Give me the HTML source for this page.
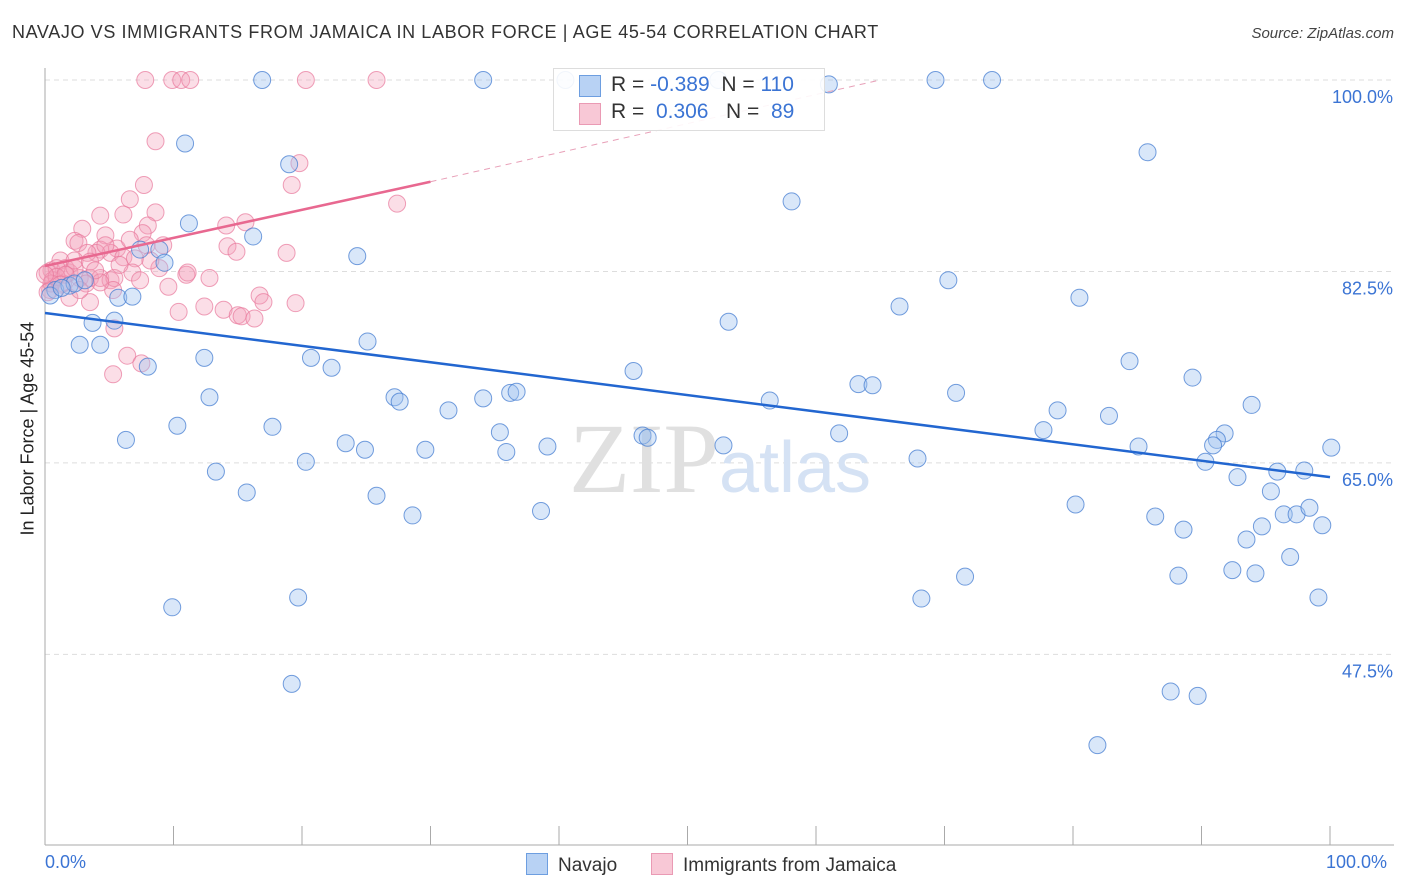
<!DOCTYPE html>
<html><head><meta charset="utf-8">
<style>
body{margin:0;background:#fff;font-family:"Liberation Sans",sans-serif;}
#wrap{position:relative;width:1406px;height:892px;overflow:hidden;}
.t{position:absolute;white-space:nowrap;}
</style></head>
<body>
<div id="wrap">
<div class="t" style="left:12px;top:22px;font-size:18px;color:#333;letter-spacing:0.62px">NAVAJO VS IMMIGRANTS FROM JAMAICA IN LABOR FORCE | AGE 45-54 CORRELATION CHART</div>
<div class="t" style="right:12px;top:25px;font-size:15px;color:#444;font-style:italic">Source: ZipAtlas.com</div>
<svg id="svg" width="1406" height="892" style="position:absolute;left:0;top:0"></svg>
</div>
<script>
const bluePx=[[262,80],[483,80],[565,80],[718,80],[829,84],[936,80],[992,80],[185,143],[289,164],[1147,152],[792,201],[189,223],[253,236],[140,250],[160,250],[357,256],[165,263],[948,280],[55,290],[70,286],[75,283],[118,298],[133,297],[1080,298],[900,307],[93,323],[115,321],[728,322],[80,345],[100,345],[368,341],[204,358],[311,358],[148,367],[331,368],[1130,361],[633,371],[1193,378],[859,384],[872,385],[956,393],[209,397],[395,397],[400,402],[483,398],[510,393],[516,392],[770,401],[449,410],[1058,410],[1251,405],[1109,416],[177,426],[273,427],[500,432],[1043,430],[1225,433],[126,440],[346,443],[365,450],[425,450],[506,452],[548,447],[642,436],[648,438],[724,445],[839,433],[1138,447],[1217,440],[1213,445],[1331,448],[917,459],[306,462],[1205,462],[216,472],[1237,477],[1277,472],[1304,471],[247,492],[376,496],[1271,491],[413,515],[541,511],[1075,505],[1155,517],[1184,530],[1262,526],[1284,514],[1297,514],[1310,508],[1322,525],[1246,540],[1290,557],[965,577],[1179,576],[1232,570],[1256,573],[172,607],[298,597],[921,599],[1318,598],[292,684],[1171,691],[1198,696],[1098,745],[50,295],[62,288],[85,280]];
const pinkPx=[[145,80],[172,80],[181,80],[190,80],[306,80],[377,80],[156,141],[300,163],[292,185],[144,185],[130,199],[397,204],[156,212],[100,216],[124,215],[82,229],[106,235],[226,225],[246,222],[148,225],[143,233],[75,241],[78,243],[117,249],[147,245],[163,245],[227,246],[100,250],[110,253],[96,253],[88,253],[123,257],[237,252],[286,253],[135,258],[60,260],[52,270],[48,272],[70,272],[53,280],[63,283],[80,278],[90,278],[100,278],[110,280],[115,278],[133,272],[159,268],[186,275],[187,273],[210,278],[66,268],[74,268],[57,268],[50,290],[52,283],[86,283],[113,290],[168,287],[260,295],[264,302],[296,303],[70,298],[90,302],[178,312],[204,307],[223,310],[238,315],[242,316],[255,318],[114,328],[127,356],[141,363],[113,374],[47,292],[57,277],[75,260],[90,262],[100,282],[65,275],[95,270],[120,265],[105,245],[140,280],[80,290],[60,285],[150,260],[45,275],[130,240]];
// data arrays (x in %, y in %)
const navajoX=bluePx.map(p=>+((p[0]-45)/12.85).toFixed(1));
const navajoY=bluePx.map(p=>+(100-(p[1]-80)/10.94).toFixed(1));
const jamaicaX=pinkPx.map(p=>+((p[0]-45)/12.85).toFixed(1));
const jamaicaY=pinkPx.map(p=>+(100-(p[1]-80)/10.94).toFixed(1));
const navajoTrend=[[0,78.7],[100,63.7]];
const jamaicaTrend=[[0,83.0],[30,90.7],[65,100]];
const yTicks=[100,82.5,65,47.5];
const yTickLabels=["100.0%","82.5%","65.0%","47.5%"];

const X=v=>45+v*12.85, Y=v=>80+(100-v)*10.94;
const svg=document.getElementById('svg');const NS='http://www.w3.org/2000/svg';
function mk(tag,attrs,parent){const e=document.createElementNS(NS,tag);for(const k in attrs)e.setAttribute(k,attrs[k]);(parent||svg).appendChild(e);return e;}
yTicks.forEach((v,i)=>{
 const g=mk('line',{x1:45,x2:1394,y1:Y(v),y2:Y(v),stroke:'#ddd','stroke-dasharray':'5,4'});
 
 
 const t=mk('text',{x:1393,y:Y(v)+23,'text-anchor':'end','font-size':18,fill:'#3b74d4','font-family':'Liberation Sans, sans-serif'});
 t.textContent=yTickLabels[i];
 
 
});
const ax=mk('line',{x1:45,x2:45,y1:68,y2:845,stroke:'#aaa'});


const bx=mk('line',{x1:45,x2:1394,y1:845,y2:845,stroke:'#aaa'});


for(let i=1;i<=10;i++){const tk=mk('line',{x1:45+i*128.5,x2:45+i*128.5,y1:826,y2:845,stroke:'#aaa'});
 
 }
const wm=mk('text',{x:720,y:492,'text-anchor':'middle','font-size':100,fill:'#e0e0e0','font-family':'Liberation Serif, serif'});
wm.innerHTML='ZIP<tspan fill="#d5e2f4" font-family="Liberation Sans, sans-serif" font-size="72">atlas</tspan>';


jamaicaX.forEach((x,i)=>{const c=mk('circle',{cx:X(x),cy:Y(jamaicaY[i]),r:8.5,fill:'rgba(244,160,185,0.35)',stroke:'rgba(232,120,155,0.7)','stroke-width':1});
 
 });
navajoX.forEach((x,i)=>{const c=mk('circle',{cx:X(x),cy:Y(navajoY[i]),r:8.5,fill:'rgba(160,195,240,0.4)',stroke:'rgba(70,125,210,0.75)','stroke-width':1});
 
 });
const nl=mk('line',{x1:X(navajoTrend[0][0]),y1:Y(navajoTrend[0][1]),x2:X(navajoTrend[1][0]),y2:Y(navajoTrend[1][1]),stroke:'#2266d0','stroke-width':2.5});


const jl=mk('line',{x1:X(jamaicaTrend[0][0]),y1:Y(jamaicaTrend[0][1]),x2:X(jamaicaTrend[1][0]),y2:Y(jamaicaTrend[1][1]),stroke:'#e86890','stroke-width':2.5});


const jd=mk('line',{x1:X(jamaicaTrend[1][0]),y1:Y(jamaicaTrend[1][1]),x2:X(jamaicaTrend[2][0]),y2:Y(jamaicaTrend[2][1]),stroke:'#e8a0b8','stroke-width':1,'stroke-dasharray':'6,5'});


</script>
<div class="t" style="left:553px;top:68px;width:270px;height:61px;border:1px solid #ddd;background:rgba(255,255,255,0.9)"></div>
<div class="t" style="left:579px;top:75px;width:20px;height:20px;background:#b8d2f4;border:1px solid #6d9ee0"></div>
<div class="t" style="left:579px;top:103px;width:20px;height:20px;background:#f8c8d6;border:1px solid #ea9ab4"></div>
<div class="t" style="left:611px;top:73px;font-size:21px;color:#333">R = <span style="color:#3b74d4">-0.389</span>&nbsp;&nbsp;N = <span style="color:#3b74d4">110</span></div>
<div class="t" style="left:611px;top:100px;font-size:21px;color:#333">R = &nbsp;<span style="color:#3b74d4">0.306</span>&nbsp;&nbsp;&nbsp;N = &nbsp;<span style="color:#3b74d4">89</span></div>
<div class="t" style="left:-52px;top:445px;font-size:18px;color:#222;transform:rotate(-90deg);width:160px;text-align:center">In Labor Force | Age 45-54</div>
<div class="t" style="left:45px;top:852px;font-size:18px;color:#3b74d4">0.0%</div>
<div class="t" style="left:1326px;top:852px;font-size:18px;color:#3b74d4">100.0%</div>
<div class="t" style="left:526px;top:853px;font-size:19px;color:#333"><span style="display:inline-block;width:20px;height:20px;background:#b8d2f4;border:1px solid #6d9ee0;vertical-align:-4px;margin-right:10px"></span>Navajo</div>
<div class="t" style="left:651px;top:853px;font-size:19px;color:#333"><span style="display:inline-block;width:20px;height:20px;background:#f8c8d6;border:1px solid #ea9ab4;vertical-align:-4px;margin-right:10px"></span>Immigrants from Jamaica</div>
</body></html>
